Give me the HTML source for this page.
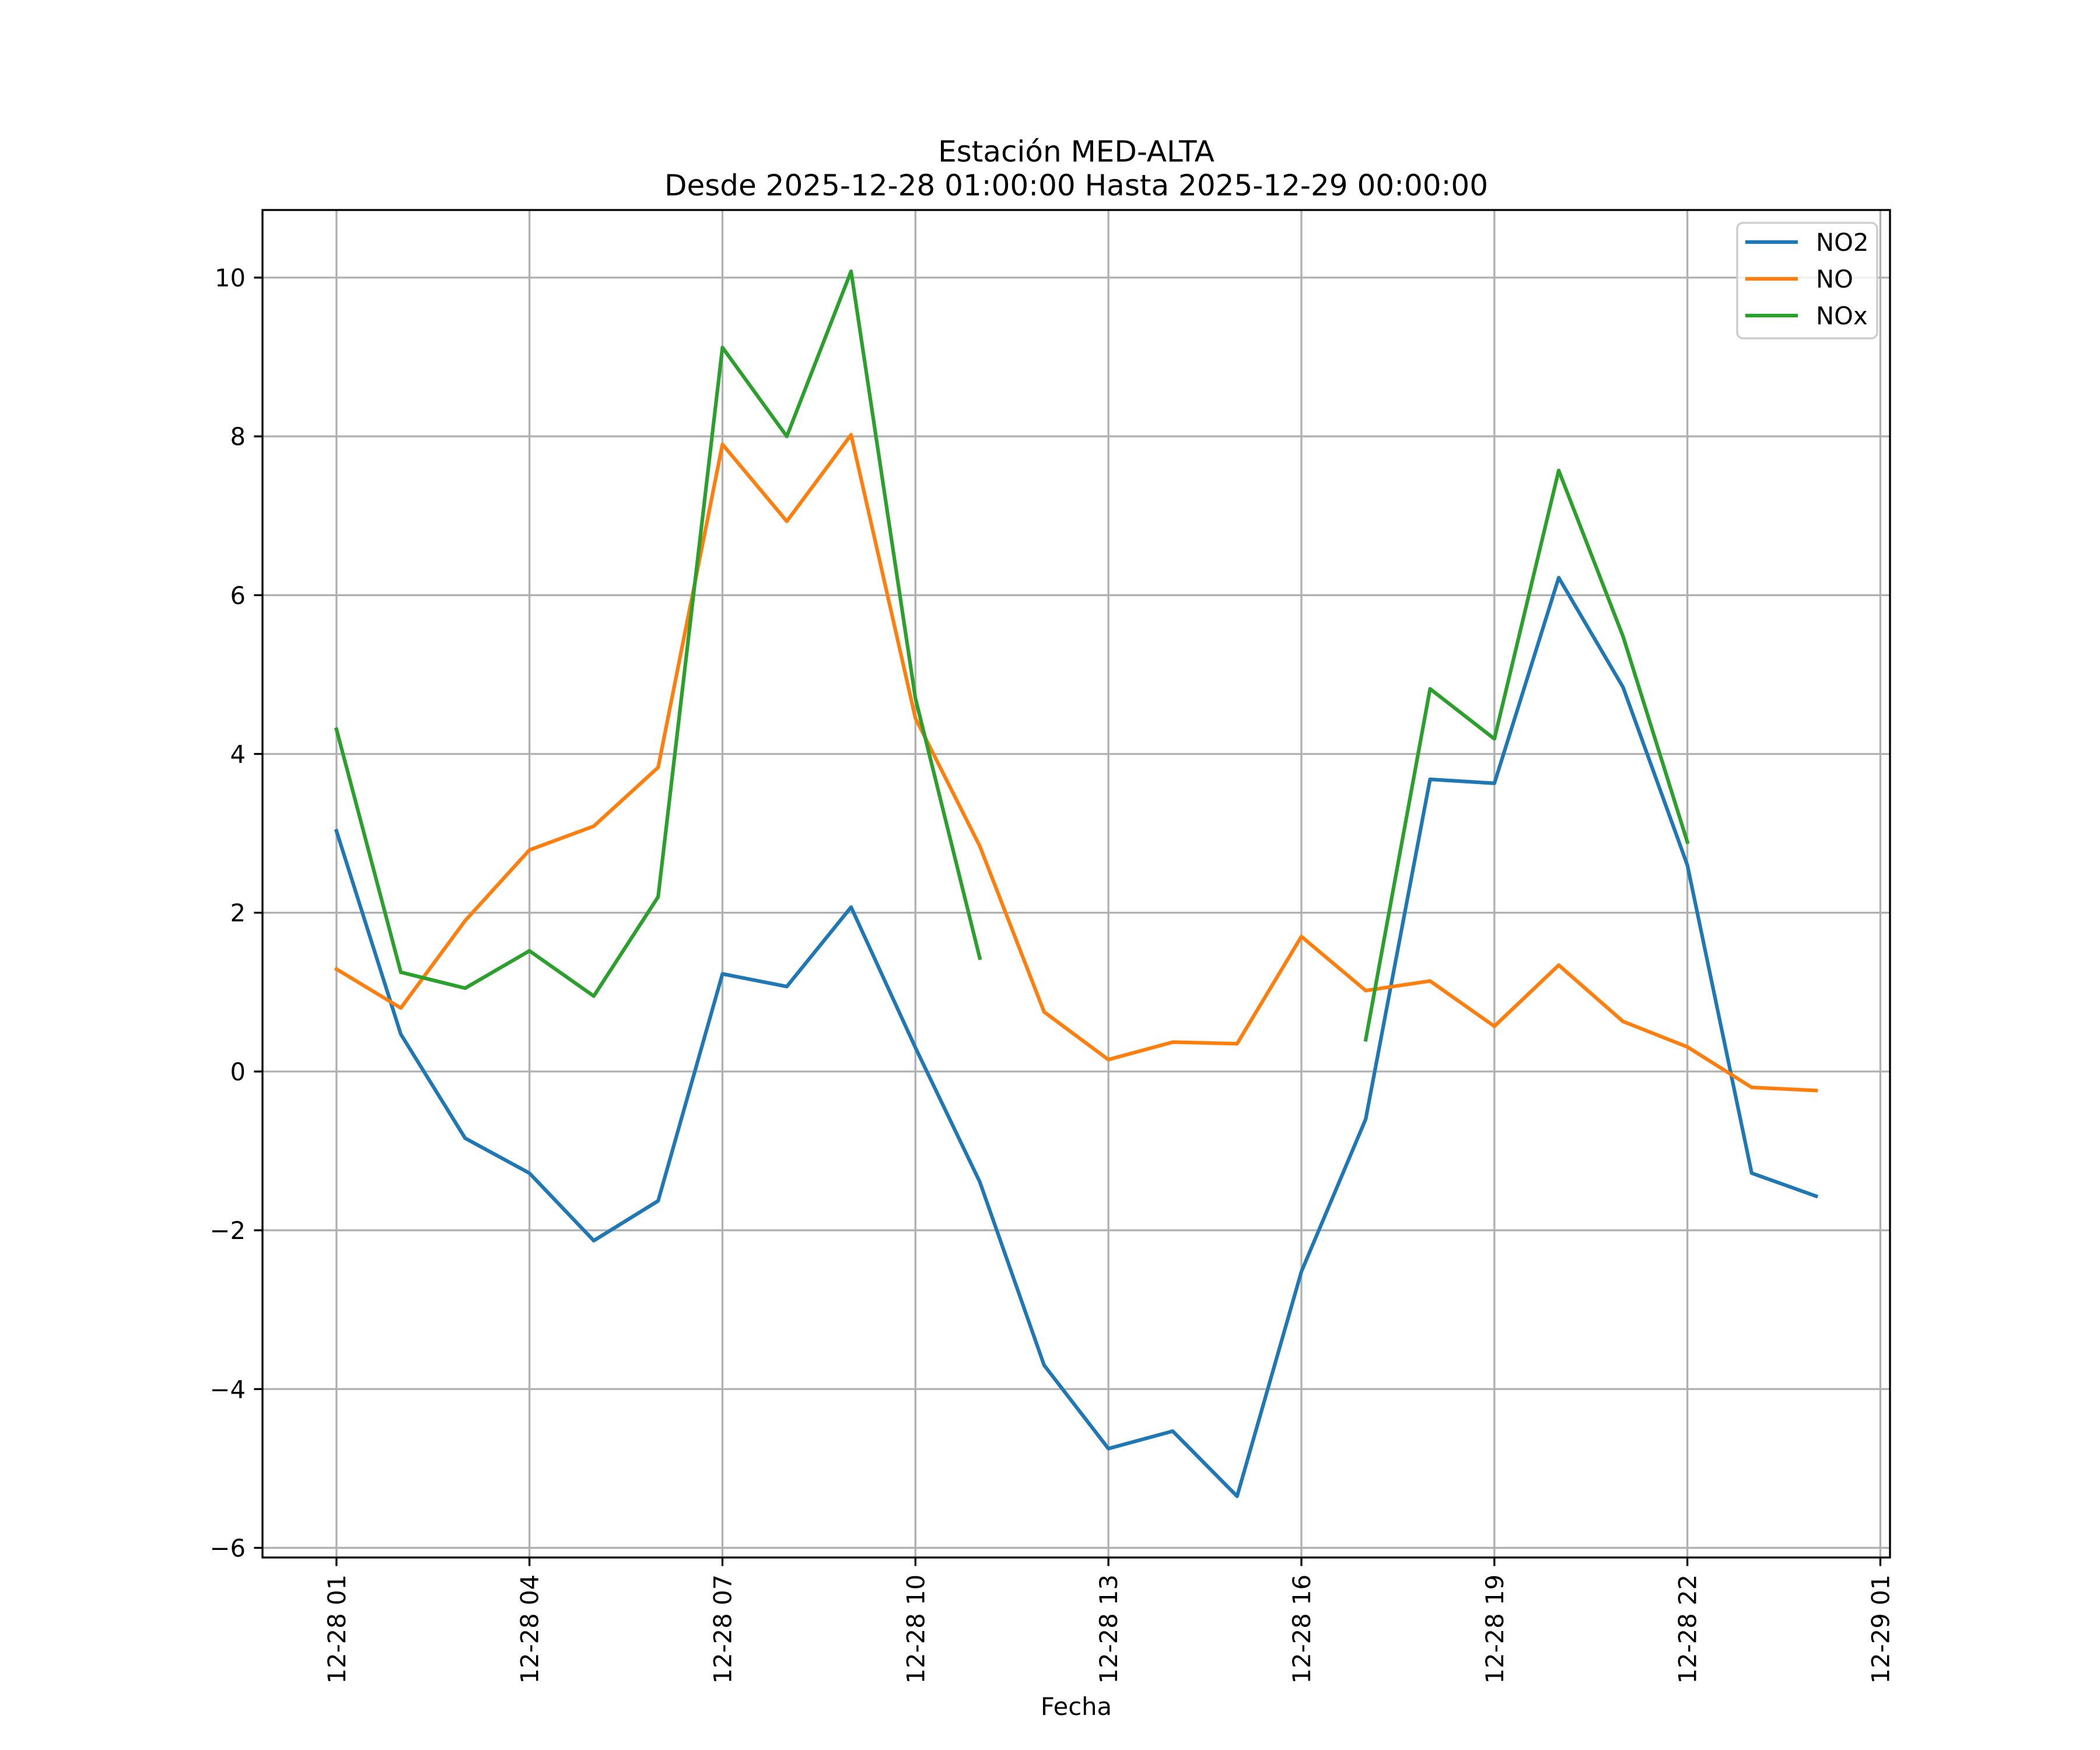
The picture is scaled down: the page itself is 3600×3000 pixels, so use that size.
<!DOCTYPE html>
<html><head><meta charset="utf-8"><style>html,body{margin:0;padding:0;background:#fff}svg{display:block}</style></head>
<body>
<svg id="chart" xmlns="http://www.w3.org/2000/svg" width="3600" height="3000" viewBox="0 0 3600 3000" font-family="'DejaVu Sans','Liberation Sans',sans-serif">
<rect width="3600" height="3000" fill="#fff"/>
<g id="grid"></g>
<g id="series"></g>
<rect x="450" y="360" width="2790" height="2310" fill="none" stroke="#000" stroke-width="3.33"/>
<g id="ticks"></g>
<text x="1845" y="277" font-size="50" text-anchor="middle">Estación MED-ALTA</text>
<text x="1845" y="335" font-size="50" text-anchor="middle">Desde 2025-12-28 01:00:00 Hasta 2025-12-29 00:00:00</text>
<text x="1845" y="2940" font-size="41.7" text-anchor="middle">Fecha</text>
<g>
<rect x="2978" y="382" width="240" height="198" rx="10" fill="#fff" fill-opacity="0.8" stroke="#ccc" stroke-width="3.33"/>
<g><line x1="2992" y1="415" x2="3082" y2="415" stroke="#1f77b4" stroke-width="6.25"/><text x="3113" y="430" font-size="41.7">NO2</text></g>
<g><line x1="2992" y1="478" x2="3082" y2="478" stroke="#ff7f0e" stroke-width="6.25"/><text x="3113" y="493" font-size="41.7">NO</text></g>
<g><line x1="2992" y1="541" x2="3082" y2="541" stroke="#2ca02c" stroke-width="6.25"/><text x="3113" y="556" font-size="41.7">NOx</text></g>
</g>
</svg>
<script>
const hours = [1,2,3,4,5,6,7,8,9,10,11,12,13,14,15,16,17,18,19,20,21,22,23,24];
const no2 = [3.03,0.47,-0.84,-1.28,-2.13,-1.63,1.23,1.07,2.07,0.30,-1.39,-3.70,-4.75,-4.53,-5.35,-2.52,-0.60,3.68,3.63,6.22,4.84,2.60,-1.28,-1.57];
const no = [1.29,0.80,1.90,2.79,3.09,3.83,7.90,6.93,8.02,4.45,2.84,0.75,0.15,0.37,0.35,1.70,1.02,1.14,0.57,1.34,0.63,0.31,-0.20,-0.24];
const nox = [4.31,1.25,1.05,1.52,0.95,2.20,9.12,8.00,10.08,4.70,1.43,null,null,null,null,null,0.40,4.82,4.19,7.57,5.48,2.89,null,null];
const yTicks = [-6,-4,-2,0,2,4,6,8,10];
const xTickHours = [1,4,7,10,13,16,19,22,25];
const xTickLabels = ["12-28 01","12-28 04","12-28 07","12-28 10","12-28 13","12-28 16","12-28 19","12-28 22","12-29 01"];

const NS = "http://www.w3.org/2000/svg";
const L=450,R=3240,T=360,B=2670;
const allV=[...no2,...no,...nox].filter(v=>v!==null);
const vmin=Math.min(...allV), vmax=Math.max(...allV), vm=(vmax-vmin)*0.05;
const y0=vmin-vm, y1=vmax+vm;
const hmin=Math.min(...hours), hmax=Math.max(...hours), hm=(hmax-hmin)*0.05;
const x0=hmin-hm, x1=hmax+hm;
const X=h=>L+(h-x0)/(x1-x0)*(R-L);
const Y=v=>T+(y1-v)/(y1-y0)*(B-T);
function mk(tag,attrs,parent){const e=document.createElementNS(NS,tag);for(const k in attrs)e.setAttribute(k,attrs[k]);parent.appendChild(e);return e;}
const grid=document.getElementById('grid'), ticks=document.getElementById('ticks'), series=document.getElementById('series');
yTicks.forEach(v=>{
  const y=Y(v);
  const g=mk('line',{x1:L,x2:R,y1:y,y2:y,stroke:'#b0b0b0','stroke-width':3.33},grid);
  
  
  mk('line',{x1:L-14.6,x2:L,y1:y,y2:y,stroke:'#000','stroke-width':3.33},ticks);
  const t=mk('text',{x:L-29,y:y+15,'font-size':41.7,'text-anchor':'end'},ticks);
  t.textContent=(v<0?'\u2212':'')+Math.abs(v);
  
  
});
xTickHours.forEach((h,i)=>{
  const x=X(h);
  const g=mk('line',{x1:x,x2:x,y1:T,y2:B,stroke:'#b0b0b0','stroke-width':3.33},grid);
  
  
  mk('line',{x1:x,x2:x,y1:B,y2:B+14.6,stroke:'#000','stroke-width':3.33},ticks);
  const t=mk('text',{x:0,y:0,'font-size':41.7,'text-anchor':'end',transform:`translate(${x+15},${B+29}) rotate(-90)`},ticks);
  t.textContent=xTickLabels[i];
  
  
});
function draw(vals,color,name){
  let d='',pen=false;
  vals.forEach((v,i)=>{
    if(v===null){pen=false;return;}
    d+=(pen?'L':'M')+X(hours[i]).toFixed(1)+' '+Y(v).toFixed(1)+' ';pen=true;
  });
  const p=mk('path',{d:d,fill:'none',stroke:color,'stroke-width':6.25,'stroke-linejoin':'round','stroke-linecap':'square'},series);
  
  
}
draw(no2,'#1f77b4','no2-line');
draw(no,'#ff7f0e','no-line');
draw(nox,'#2ca02c','nox-line');
</script>
</body></html>
